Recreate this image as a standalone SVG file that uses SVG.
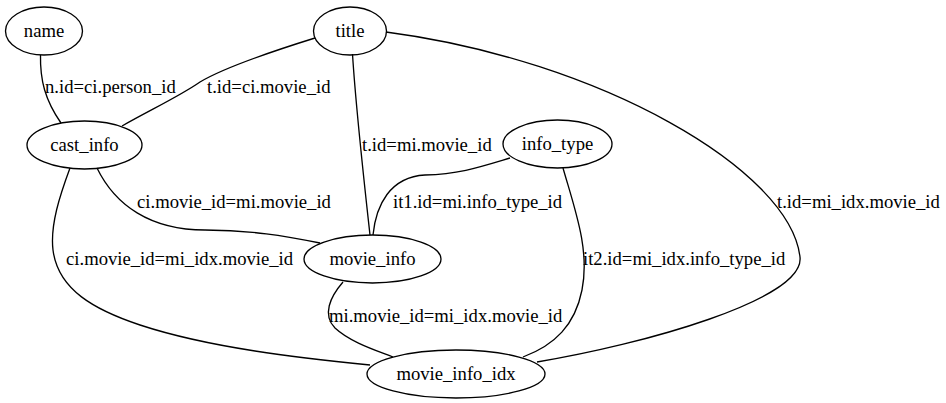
<svg xmlns="http://www.w3.org/2000/svg" width="946" height="403" viewBox="0 0 946 403">
<style>
.n ellipse{fill:none;stroke:#000;stroke-width:1.33}
.n text{font-family:"Liberation Serif","Times New Roman",serif;font-size:18.67px;text-anchor:middle;fill:#000}
.e path{fill:none;stroke:#000;stroke-width:1.33}
.e text{font-family:"Liberation Serif","Times New Roman",serif;font-size:18.67px;fill:#000}
</style>
<rect width="946" height="403" fill="#fff"/>
<g class="e" id="edges">
<path d="M40.5,55 C40,80 45,100 61,123"/>
<text x="45" y="93">n.id=ci.person_id</text>
<path d="M315,38 C270,52 220,70 200,82 C180,96 150,110 122,126"/>
<text x="207" y="93">t.id=ci.movie_id</text>
<path d="M352.5,54 C356,110 365,190 370,235"/>
<text x="362" y="151">t.id=mi.movie_id</text>
<path d="M386,32 C600,60 790,170 800,257 C805,300 640,345 537,362"/>
<text x="777" y="208">t.id=mi_idx.movie_id</text>
<path d="M97,168 C115,205 150,230 205,230 C250,230 285,236 320,243"/>
<text x="137" y="208">ci.movie_id=mi.movie_id</text>
<path d="M70,168 C60,195 50,225 53,250 C58,290 95,310 140,325 C210,348 300,358 370,365"/>
<text x="66" y="265">ci.movie_id=mi_idx.movie_id</text>
<path d="M510,158 C480,167 460,174 425,175 C390,177 376,205 373,235"/>
<text x="393" y="208">it1.id=mi.info_type_id</text>
<path d="M563,168 C575,210 590,250 582,290 C575,325 555,345 523,357"/>
<text x="583" y="265">it2.id=mi_idx.info_type_id</text>
<path d="M343,282 C330,297 322,315 335,328 C350,342 375,350 393,357"/>
<text x="329" y="322">mi.movie_id=mi_idx.movie_id</text>
</g>
<g class="n" id="name"><ellipse cx="44" cy="31" rx="38.5" ry="24"/><text x="44" y="37">name</text></g>
<g class="n" id="title"><ellipse cx="350" cy="31" rx="36.5" ry="24"/><text x="350" y="37">title</text></g>
<g class="n" id="cast_info"><ellipse cx="84.5" cy="145" rx="57.5" ry="24"/><text x="84.5" y="151">cast_info</text></g>
<g class="n" id="info_type"><ellipse cx="557.5" cy="144" rx="54.5" ry="24"/><text x="557.5" y="150">info_type</text></g>
<g class="n" id="movie_info"><ellipse cx="372.5" cy="259" rx="68.5" ry="24"/><text x="372.5" y="265">movie_info</text></g>
<g class="n" id="movie_info_idx"><ellipse cx="456" cy="374" rx="89" ry="24"/><text x="456" y="380">movie_info_idx</text></g>
</svg>
